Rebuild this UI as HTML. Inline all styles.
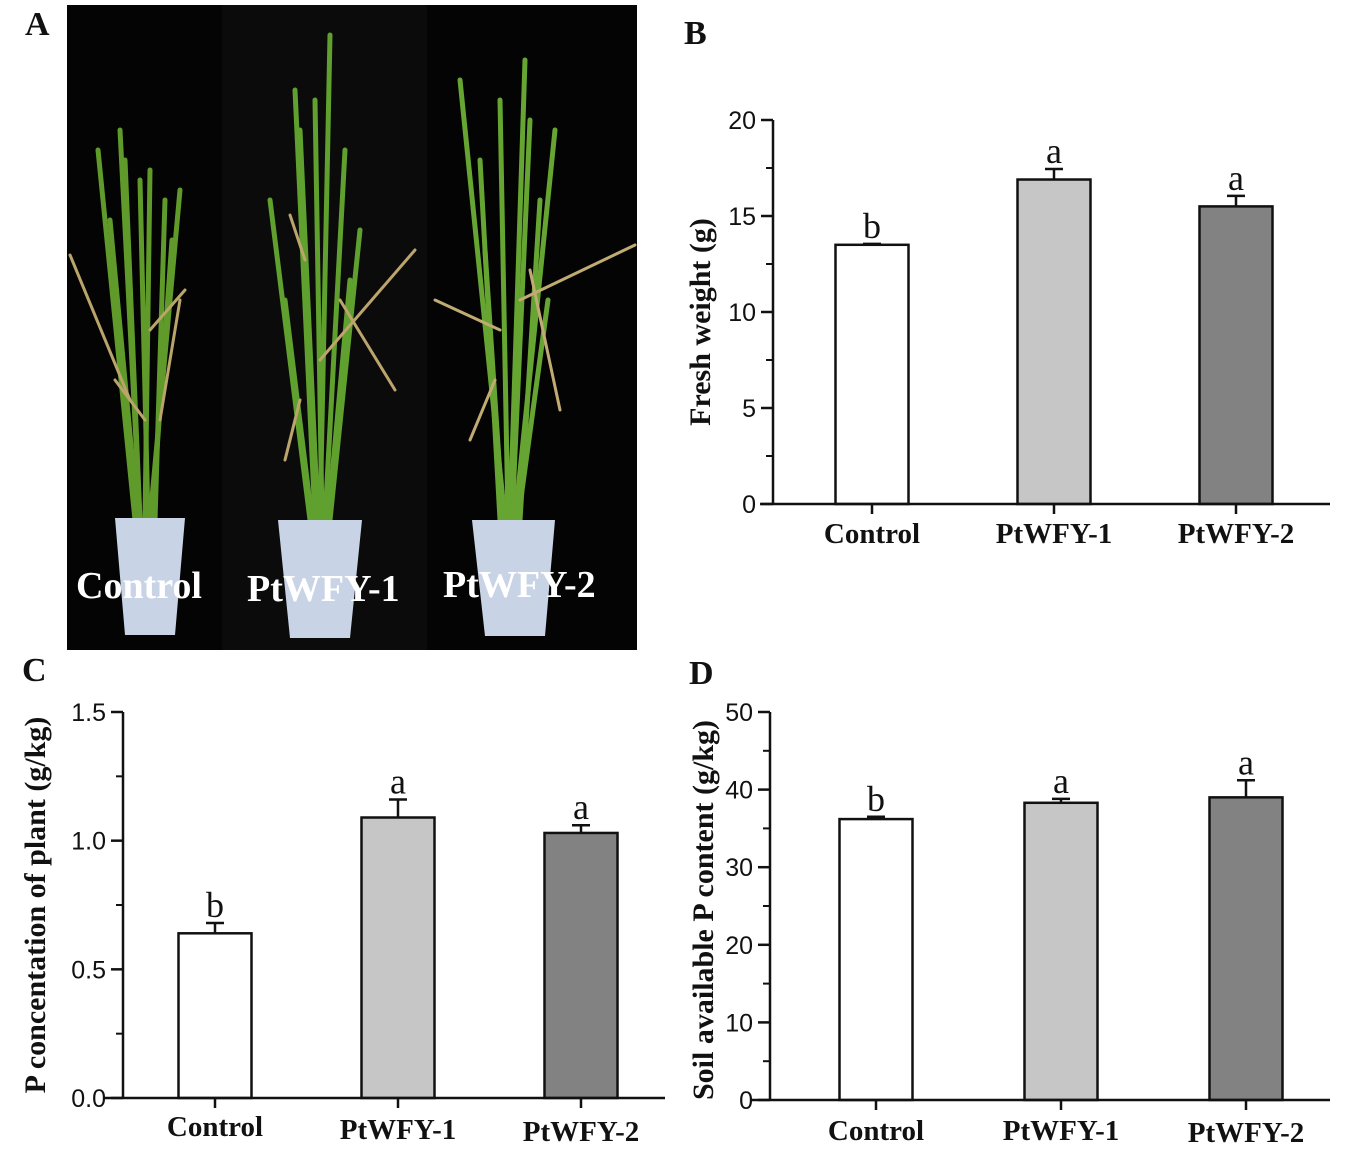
<!DOCTYPE html>
<html><head><meta charset="utf-8">
<style>
html,body{margin:0;padding:0;background:#fff;}
svg{display:block;}
.tick{font-family:"Liberation Sans",sans-serif;font-size:25px;fill:#111;}
.cat{font-family:"Liberation Serif",serif;font-weight:bold;font-size:29px;fill:#111;}
.ytitle{font-family:"Liberation Serif",serif;font-weight:bold;font-size:30px;fill:#111;}
.sig{font-family:"Liberation Serif",serif;font-size:36px;fill:#111;}
.plabel{font-family:"Liberation Serif",serif;font-weight:bold;font-size:34px;fill:#111;}
.potlabel{font-family:"Liberation Serif",serif;font-weight:bold;font-size:38px;fill:#fff;}
</style></head>
<body>
<svg id="fig" width="1346" height="1159" viewBox="0 0 1346 1159" xmlns="http://www.w3.org/2000/svg">
  <text class="plabel" x="25" y="35">A</text>
  <text class="plabel" x="684" y="44">B</text>
  <text class="plabel" x="22" y="681">C</text>
  <text class="plabel" x="689" y="684">D</text>

  <g>
    <rect x="67" y="5" width="570" height="645" fill="#040404"/>
    <rect x="222" y="5" width="205" height="645" fill="#0b0b0b"/>
    <g stroke-linecap="round" fill="none">
      <g stroke="#5f9a2a" stroke-width="5">
        <path d="M140 520 L125 160"/><path d="M145 520 L150 170"/><path d="M135 520 L98 150"/>
        <path d="M150 520 L180 190"/><path d="M140 520 L120 130"/><path d="M155 520 L165 200"/>
        <path d="M138 520 L110 220"/><path d="M148 520 L140 180"/><path d="M152 520 L172 240"/>
      </g>
      <g stroke="#b9a46a" stroke-width="3">
        <path d="M130 400 L70 255"/><path d="M150 330 L185 290"/><path d="M145 420 L115 380"/><path d="M160 420 L180 300"/>
      </g>
      <g stroke="#5fa02e" stroke-width="5">
        <path d="M320 520 L330 35"/><path d="M315 520 L295 90"/><path d="M325 520 L345 150"/>
        <path d="M310 520 L270 200"/><path d="M330 520 L360 230"/><path d="M318 520 L300 130"/>
        <path d="M322 520 L315 100"/><path d="M312 520 L285 300"/><path d="M328 520 L350 280"/>
      </g>
      <g stroke="#bba56c" stroke-width="3">
        <path d="M320 360 L415 250"/><path d="M300 400 L285 460"/><path d="M340 300 L395 390"/><path d="M305 260 L290 215"/>
      </g>
      <g stroke="#66a532" stroke-width="5">
        <path d="M510 520 L525 60"/><path d="M505 520 L460 80"/><path d="M515 520 L555 130"/>
        <path d="M500 520 L480 160"/><path d="M520 520 L540 200"/><path d="M508 520 L500 100"/>
        <path d="M512 520 L530 120"/><path d="M503 520 L485 250"/><path d="M518 520 L548 300"/>
      </g>
      <g stroke="#c0ab72" stroke-width="3">
        <path d="M500 330 L435 300"/><path d="M520 300 L635 245"/><path d="M495 380 L470 440"/><path d="M530 270 L560 410"/>
      </g>
    </g>
    <path d="M115 518 L185 518 L175 635 L125 635 Z" fill="#c9d3e6"/>
    <path d="M278 520 L362 520 L350 638 L290 638 Z" fill="#c9d3e6"/>
    <path d="M472 520 L555 520 L545 636 L485 636 Z" fill="#c9d3e6"/>
    <text class="potlabel" x="76" y="598">Control</text>
    <text class="potlabel" x="247" y="601">PtWFY-1</text>
    <text class="potlabel" x="443" y="597">PtWFY-2</text>
  </g>
  <g id="charts"></g>
</svg>
<script>
const categories = ["Control", "PtWFY-1", "PtWFY-2"];
const sigLetters = { B: ["b","a","a"], C: ["b","a","a"], D: ["b","a","a"] };
const freshWeight = [13.5, 16.9, 15.5];
const freshWeightErr = [0.05, 0.55, 0.55];
const freshTicks = [0, 5, 10, 15, 20];
const pConc = [0.64, 1.09, 1.03];
const pConcErr = [0.04, 0.07, 0.03];
const pConcTicks = ["0.0", "0.5", "1.0", "1.5"];
const soilP = [36.2, 38.3, 39.0];
const soilPErr = [0.3, 0.5, 2.2];
const soilTicks = [0, 10, 20, 30, 40, 50];
const fills = ["#ffffff", "#c6c6c6", "#828282"];

const NS = "http://www.w3.org/2000/svg";
const root = document.getElementById("charts");
function mk(tag, attrs, parent) {
  const e = document.createElementNS(NS, tag);
  for (const k in attrs) e.setAttribute(k, attrs[k]);
  parent.appendChild(e);
  return e;
}

function drawChart(cfg, values, errs, ticks, letters, key) {
  const g = mk("g", {}, root);
  
  
  const tv = ticks.map(Number);
  const ymax = tv[tv.length - 1];
  const y = v => cfg.y0 - (v / ymax) * (cfg.y0 - cfg.ytop);
  const x = i => cfg.xc[i];
  values.forEach((v, i) => {
    const top = y(v), eTop = y(v + errs[i]);
    const eb = mk("line", {x1: x(i), x2: x(i), y1: top, y2: eTop, stroke: "#111", "stroke-width": 2.5}, g);
    
    
    mk("line", {x1: x(i) - 9, x2: x(i) + 9, y1: eTop, y2: eTop, stroke: "#111", "stroke-width": 2.5}, g);
    const r = mk("rect", {x: x(i) - cfg.bw / 2, y: top, width: cfg.bw, height: cfg.y0 - top, fill: fills[i], stroke: "#111", "stroke-width": 2.5}, g);
    
    
    const s = mk("text", {x: x(i), y: eTop - 6, class: "sig", "text-anchor": "middle"}, g);
    s.textContent = letters[i];
    
    
    mk("line", {x1: x(i), x2: x(i), y1: cfg.y0, y2: cfg.y0 + 10, stroke: "#111", "stroke-width": 2.5}, g);
    const c = mk("text", {x: x(i), y: cfg.catY[i], class: "cat", "text-anchor": "middle"}, g);
    c.textContent = categories[i];
    
    
  });
  const ya = mk("line", {x1: cfg.xa, x2: cfg.xa, y1: cfg.ytop, y2: cfg.y0, stroke: "#111", "stroke-width": 2.5}, g);
  
  
  const xa = mk("line", {x1: cfg.xstart, x2: cfg.xend, y1: cfg.y0, y2: cfg.y0, stroke: "#111", "stroke-width": 2.5}, g);
  
  
  for (let k = 0; k < tv.length; k++) {
    const ty = y(tv[k]);
    mk("line", {x1: cfg.xa - 12, x2: cfg.xa, y1: ty, y2: ty, stroke: "#111", "stroke-width": 2.5}, g);
    const t = mk("text", {x: cfg.xa - 17, y: ty + 9, class: "tick", "text-anchor": "end"}, g);
    t.textContent = ticks[k];
    
    
    if (k < tv.length - 1) {
      const my = y((tv[k] + tv[k + 1]) / 2);
      mk("line", {x1: cfg.xa - 7, x2: cfg.xa, y1: my, y2: my, stroke: "#111", "stroke-width": 2}, g);
    }
  }
  const tt = mk("text", {x: 0, y: 0, class: "ytitle", "text-anchor": "middle", transform: `translate(${cfg.titleX},${(cfg.y0 + cfg.ytop) / 2 + cfg.titleDy}) rotate(-90)`}, g);
  tt.textContent = cfg.title;
  
  
}

drawChart({xa: 773, xstart: 760, xend: 1330, y0: 504, ytop: 120, xc: [872, 1054, 1236], bw: 73,
  catY: [543, 543, 543], titleX: 710, titleDy: 10, title: "Fresh weight (g)"},
  freshWeight, freshWeightErr, freshTicks, sigLetters.B, "b");
drawChart({xa: 123, xstart: 105, xend: 665, y0: 1098, ytop: 712, xc: [215, 398, 581], bw: 73,
  catY: [1136, 1139, 1141], titleX: 45, titleDy: 0, title: "P concentation of plant (g/kg)"},
  pConc, pConcErr, pConcTicks, sigLetters.C, "c");
drawChart({xa: 770, xstart: 752, xend: 1330, y0: 1100, ytop: 712, xc: [876, 1061, 1246], bw: 73,
  catY: [1140, 1140, 1142], titleX: 713, titleDy: 4, title: "Soil available P content (g/kg)"},
  soilP, soilPErr, soilTicks, sigLetters.D, "d");
</script>
</body></html>
